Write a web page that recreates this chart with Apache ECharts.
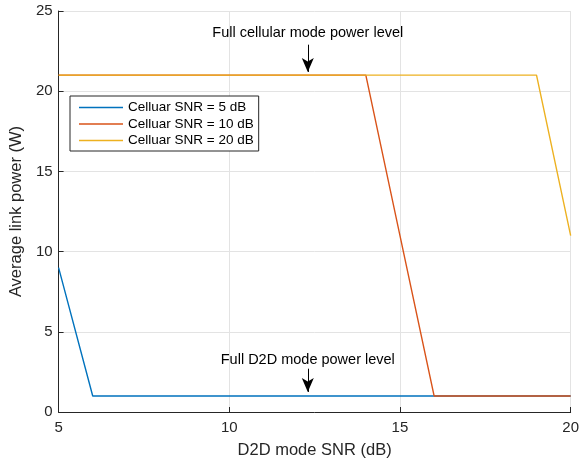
<!DOCTYPE html>
<html>
<head>
<meta charset="utf-8">
<script src="https://cdn.jsdelivr.net/npm/echarts@6/dist/echarts.min.js"></script>
<style>
    html, body { margin: 0; padding: 0; background: #fff; }
    #powerChart { width: 582px; height: 464px; }
</style>
</head>
<body>
<div id="powerChart"></div>
<script>
// x: D2D mode SNR (dB)
var snrD2D = [5, 6, 7, 8, 9, 10, 11, 12, 13, 14, 15, 16, 17, 18, 19, 20];
// average link power (W) for each cellular SNR
var powerCell5 = [9, 1, 1, 1, 1, 1, 1, 1, 1, 1, 1, 1, 1, 1, 1, 1];
var powerCell10 = [21, 21, 21, 21, 21, 21, 21, 21, 21, 21, 11, 1, 1, 1, 1, 1];
var powerCell20 = [21, 21, 21, 21, 21, 21, 21, 21, 21, 21, 21, 21, 21, 21, 21, 11];
var seriesNames = ['Celluar SNR = 5 dB', 'Celluar SNR = 10 dB', 'Celluar SNR = 20 dB'];
// annotations: [x, yStart, yEnd, text]
var noteCell = [12.3, 22.9, 21.2, 'Full cellular mode power level'];
var noteD2D = [12.3, 2.7, 1.25, 'Full D2D mode power level'];

var colors = ['#0072BD', '#D95319', '#EDB120'];
var fontName = 'Liberation Sans';

function makePairs(ys) {
    var out = [];
    for (var i = 0; i < snrD2D.length; i++) {
        out.push([snrD2D[i], ys[i]]);
    }
    return out;
}

function makeArrow(note, dist) {
    return [
        { coord: [note[0], note[1]], symbol: 'none',
          label: { show: true, position: 'start', formatter: note[3], distance: dist,
                   color: '#000', fontSize: 14.5, fontFamily: fontName } },
        { coord: [note[0], note[2]], symbol: 'arrow' }
    ];
}

window.onload = function () {
    var chart = echarts.init(document.getElementById('powerChart'));
    var allData = [powerCell5, powerCell10, powerCell20];
    var series = [];
    for (var i = 0; i < allData.length; i++) {
        series.push({
            name: seriesNames[i],
            type: 'line',
            data: makePairs(allData[i]),
            symbol: 'none',
            lineStyle: { width: 1.4, color: colors[i] },
            itemStyle: { color: colors[i] },
            z: 3 + i,
            animation: false
        });
    }
    // arrows + text on a dummy series
    series.push({
        type: 'line',
        data: [],
        silent: true,
        markLine: {
            silent: true,
            symbol: ['none', 'arrow'],
            symbolSize: [9, 14],
            lineStyle: { color: '#000', width: 1, type: 'solid' },
            label: { show: true },
            data: [makeArrow(noteCell, 4), makeArrow(noteD2D, 1)],
            animation: false
        }
    });

    var option = {
        animation: false,
        grid: { left: 52, right: 8, top: 11, bottom: 48, containLabel: false },
        legend: {
            data: seriesNames,
            orient: 'vertical',
            left: 70,
            top: 96,
            icon: 'rect',
            itemWidth: 44,
            itemHeight: 1.5,
            itemGap: 1.5,
            padding: [4, 5, 3, 9],
            borderColor: '#262626',
            borderWidth: 1,
            backgroundColor: '#fff',
            textStyle: { fontSize: 13.5, lineHeight: 15, fontFamily: fontName, color: '#000' }
        },
        xAxis: {
            type: 'value',
            min: 5,
            max: 20,
            interval: 5,
            name: 'D2D mode SNR (dB)',
            nameLocation: 'middle',
            nameGap: 30,
            nameTextStyle: { fontSize: 16.5, fontFamily: fontName, color: '#262626' },
            axisLine: { show: true, onZero: false, lineStyle: { color: '#262626', width: 1 } },
            axisTick: { show: true, inside: true, length: 5, lineStyle: { color: '#262626' } },
            axisLabel: { fontSize: 15, fontFamily: fontName, color: '#262626', margin: 8 },
            splitLine: { show: true, lineStyle: { color: '#e3e3e3', width: 1 } }
        },
        yAxis: {
            type: 'value',
            min: 0,
            max: 25,
            interval: 5,
            name: 'Average link power (W)',
            nameLocation: 'middle',
            nameGap: 27,
            nameTextStyle: { fontSize: 16.5, fontFamily: fontName, color: '#262626' },
            axisLine: { show: true, lineStyle: { color: '#262626', width: 1 } },
            axisTick: { show: true, inside: true, length: 5, lineStyle: { color: '#262626' } },
            axisLabel: { fontSize: 15, fontFamily: fontName, color: '#262626', margin: 6 },
            splitLine: { show: true, lineStyle: { color: '#e3e3e3', width: 1 } }
        },
        series: series
    };
    chart.setOption(option);
};
</script>
</body>
</html>
